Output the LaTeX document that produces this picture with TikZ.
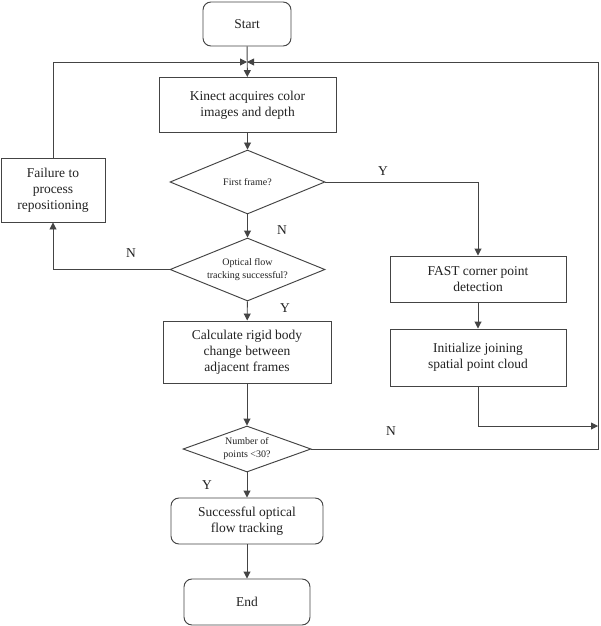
\documentclass[tikz,border=0pt]{standalone}
\usepackage{fontspec}
\setmainfont{Liberation Serif}
\usetikzlibrary{shapes.geometric,arrows.meta}
\definecolor{lc}{HTML}{444444}
\definecolor{tc}{HTML}{222222}
\begin{document}
\begin{tikzpicture}[x=1pt,y=-1pt,
 line/.style={draw=lc, line width=0.95pt},
 box/.style={line, rectangle, inner sep=0pt, align=center, font=\fontsize{13.5}{16}\selectfont, text=tc},
 rbox/.style={box, rounded corners=8pt},
 dec/.style={line, diamond, inner sep=0pt, align=center, font=\fontsize{10}{13}\selectfont, text=tc},
 lab/.style={font=\fontsize{13.5}{16}\selectfont, text=tc},
 arr/.style={line, -{Triangle[length=7pt,width=7pt]}}
]
\useasboundingbox[fill=white] (0,0) rectangle (600,626);
\node[rbox, minimum width=88pt, minimum height=44pt] (start) at (247,24) {Start};
\node[box, minimum width=177pt, minimum height=55pt] (kinect) at (247.5,105) {Kinect acquires color\\images and depth};
\node[dec, shape aspect=2.42, minimum width=155pt, minimum height=64pt] (d1) at (247.5,182) {First frame?};
\node[dec, shape aspect=2.42, minimum width=155pt, minimum height=63pt] (d2) at (247.5,269.5) {Optical flow\\tracking successful?};
\node[box, minimum width=104pt, minimum height=64pt] (fail) at (53,190) {Failure to\\process\\repositioning};
\node[box, minimum width=168pt, minimum height=62pt] (calc) at (247,352) {Calculate rigid body\\change between\\adjacent frames};
\node[box, minimum width=176pt, minimum height=46pt] (fast) at (478,279) {FAST corner point\\detection};
\node[box, minimum width=176pt, minimum height=57pt] (init) at (478,357.5) {Initialize joining\\spatial point cloud};
\node[dec, shape aspect=2.78, minimum width=128pt, minimum height=46pt] (d3) at (247,449) {Number of\\points <30?};
\node[rbox, minimum width=152pt, minimum height=46pt] (succ) at (247,521) {Successful optical\\flow tracking};
\node[rbox, minimum width=126pt, minimum height=46pt] (stop) at (247,602) {End};
\coordinate (j) at (247,62);
\coordinate (r1) at (598,426);
\coordinate (r2) at (598,62);
\draw[arr] (start) -- (kinect);
\draw[arr] (kinect) -- (d1);
\draw[arr] (d1.east) -| (fast.north);
\draw[arr] (d1) -- (d2);
\draw[arr] (d2.west) -| (fail.south);
\draw[arr] (fail.north) |- (j);
\draw[arr] (d2) -- (calc);
\draw[arr] (calc) -- (d3);
\draw[arr] (d3) -- (succ);
\draw[arr] (succ) -- (stop);
\draw[arr] (fast) -- (init);
\draw[arr] (init.south) |- (r1);
\draw[arr] (d3.east) -| (r2) -- (j);
\node[lab] (y1) at (383,171) {Y};
\node[lab] (n1) at (282,230) {N};
\node[lab] (n2) at (131,253) {N};
\node[lab] (y2) at (285,308) {Y};
\node[lab] (n3) at (391,431) {N};
\node[lab] (y3) at (207,485) {Y};
\end{tikzpicture}
\end{document}
